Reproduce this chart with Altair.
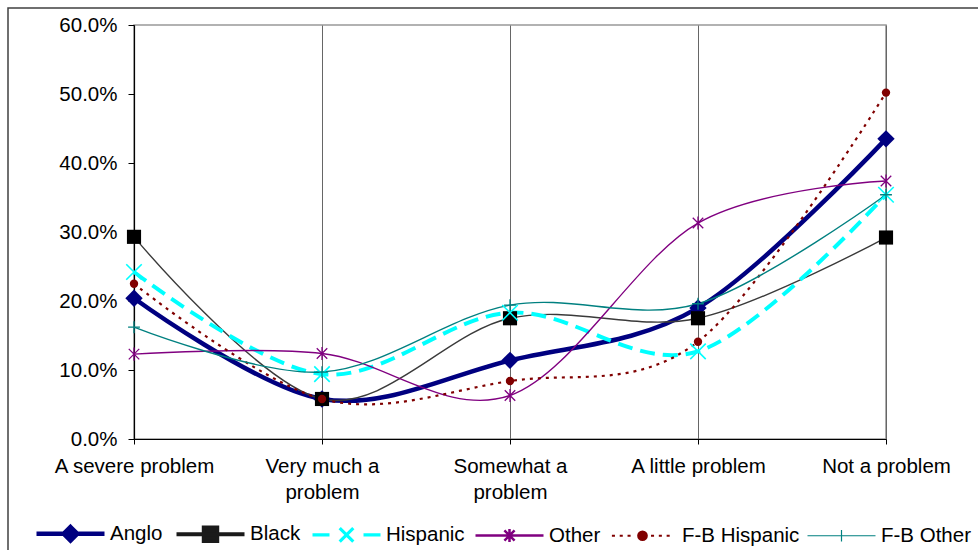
import altair as alt
import pandas as pd

CATEGORIES = ["A severe problem", "Very much a problem", "Somewhat a problem",
              "A little problem", "Not a problem"]
TICK_LINES = [["A severe problem"], ["Very much a", "problem"], ["Somewhat a", "problem"],
              ["A little problem"], ["Not a problem"]]
SERIES = ["Anglo", "Black", "Hispanic", "Other", "F-B Hispanic", "F-B Other"]
ANGLO = [20.4, 5.8, 11.4, 19.0, 43.5]
BLACK = [29.3, 5.8, 17.5, 17.5, 29.2]
HISPANIC = [24.2, 9.4, 18.3, 12.7, 35.4]
OTHER = [12.3, 12.4, 6.3, 31.3, 37.4]
FB_HISPANIC = [22.5, 5.8, 8.4, 14.1, 50.2]
FB_OTHER = [16.2, 9.7, 19.4, 19.6, 35.4]
Y_TICKS = [0, 10, 20, 30, 40, 50, 60]

VALUES = [ANGLO, BLACK, HISPANIC, OTHER, FB_HISPANIC, FB_OTHER]
rows = []
for s, vals in zip(SERIES, VALUES):
    for c, v in zip(CATEGORIES, vals):
        rows.append({"series": s, "category": c, "value": v})
df = pd.DataFrame(rows)

FONT = "Liberation Sans"
FS = 20.5

# styles (not data)
COLORS = ["#000080", "#000000", "#00FFFF", "#800080", "#800000", "#008080"]
LINE_COLORS = ["#000080", "#3a3a3a", "#00FFFF", "#800080", "#800000", "#008080"]
LINE_WIDTHS = [4.5, 1.4, 4, 1.4, 2.2, 1.4]
LINE_DASH = [None, None, [15, 8], None, [3, 5], None]
MARK_SHAPES = ["diamond", "square", "M-1,-1L1,1M-1,1L1,-1",
               "M-1,-1L1,1M-1,1L1,-1M0,-1.25L0,1.25", "circle", "M-1,0L1,0M0,-1L0,1"]
MARK_SIZES = [300, 200, 240, 110, 70, 140]
MARK_FILLED = [True, True, False, False, True, False]
MARK_SW = [1, 1, 1.6, 1.3, 1, 1.3]


def dotted(start, end, seg, period, skip=None):
    parts = []
    x = start
    while x + seg <= end + 1e-9:
        if not (skip and skip[0] < x + seg and x < skip[1]):
            parts.append(f"M{x:.3f},0H{x + seg:.3f}")
        x += period
    return "".join(parts)


LEGEND_PATHS = [
    "M-1,0H1M0,-0.2L0.2,0L0,0.2L-0.2,0Z",
    "M-1,0H1M-0.2,-0.2H0.2V0.2H-0.2Z",
    "M-1,0H-0.5M0.5,0H1M-0.2,-0.2L0.2,0.2M-0.2,0.2L0.2,-0.2",
    "M-1,0H1M-0.15,-0.15L0.15,0.15M-0.15,0.15L0.15,-0.15M0,-0.19V0.19",
    dotted(-0.9, 0.9, 0.09, 0.23, skip=(-0.2, 0.2)) + "M-0.13,0A0.13,0.13 0 1,0 0.13,0A0.13,0.13 0 1,0 -0.13,0Z",
    "M-1,0H1M0,-0.17V0.17",
]
LEGEND_COLORS = ["#000080", "#1a1a1a", "#00FFFF", "#800080", "#800000", "#008080"]
LEGEND_WIDTHS = [4.5, 1.2, 3, 1.4, 2.2, 1.4]

label_expr = ("[" + ",".join("[" + ",".join(f"'{t}'" for t in lines) + "]" for lines in TICK_LINES)
              + "][indexof([" + ",".join(f"'{c}'" for c in CATEGORIES) + "], datum.label)]")

x_enc = alt.X("category:N", sort=CATEGORIES,
              scale=alt.Scale(type="point", padding=0, domain=CATEGORIES),
              axis=alt.Axis(title=None, labelAngle=0, labelExpr=label_expr, grid=True,
                            gridColor="#666666", gridWidth=1, tickSize=5, tickColor="black",
                            domainColor="black", domainWidth=1.2, labelPadding=12,
                            labelFont=FONT, labelFontSize=FS, labelColor="black",
                            labelLineHeight=26, labelBaseline="top"))
y_enc = alt.Y("value:Q", scale=alt.Scale(domain=[0, 60], nice=False, zero=True),
              axis=alt.Axis(title=None, values=Y_TICKS, grid=False,
                            labelExpr="format(datum.value, '.1f') + '%'",
                            tickSize=6, tickColor="black", domainColor="black", domainWidth=1.2,
                            labelPadding=11, labelFont=FONT, labelFontSize=FS, labelColor="black"))

frame = alt.Chart(pd.DataFrame({"k": [0]})).mark_rect(
    fillOpacity=0, stroke="#404040", strokeWidth=1.5).encode(
    x=alt.value(-126), x2=alt.value(900), y=alt.value(-17), y2=alt.value(600))

layers = [frame]
for i, s in enumerate(SERIES):
    kw = dict(interpolate="cardinal", color=LINE_COLORS[i], strokeWidth=LINE_WIDTHS[i])
    if LINE_DASH[i]:
        kw["strokeDash"] = LINE_DASH[i]
    layers.append(alt.Chart(df).transform_filter(alt.datum.series == s)
                  .mark_line(**kw).encode(x=x_enc, y=y_enc))
for i, s in enumerate(SERIES):
    layers.append(alt.Chart(df).transform_filter(alt.datum.series == s)
                  .mark_point(shape=MARK_SHAPES[i], size=MARK_SIZES[i], filled=MARK_FILLED[i],
                              color=COLORS[i], strokeWidth=MARK_SW[i], opacity=1)
                  .encode(x=x_enc, y=y_enc))

leg = alt.Legend(title=None, orient="none", legendX=-100, legendY=472, direction="horizontal",
                 columns=6, symbolSize=4624, labelFont=FONT, labelFontSize=FS, labelColor="black",
                 labelOffset=3, columnPadding=5, padding=0)
legend_layer = alt.Chart(df).transform_filter("false").mark_point(filled=True, opacity=1).encode(
    fill=alt.Fill("series:N", scale=alt.Scale(domain=SERIES, range=LEGEND_COLORS), legend=leg),
    stroke=alt.Stroke("series:N", scale=alt.Scale(domain=SERIES, range=LEGEND_COLORS), legend=leg),
    shape=alt.Shape("series:N", scale=alt.Scale(domain=SERIES, range=LEGEND_PATHS), legend=leg),
    strokeWidth=alt.StrokeWidth("series:N", scale=alt.Scale(domain=SERIES, range=LEGEND_WIDTHS),
                                legend=leg),
)
layers.append(legend_layer)

chart = alt.layer(*layers).properties(
    width=752, height=414,
    padding={"left": 134, "top": 25, "right": 92, "bottom": 111},
    autosize=alt.AutoSizeParams(type="none"),
    background="white",
).configure_view(stroke="#999999", strokeWidth=1.6)

chart.save("out.html", embed_options={"renderer": "svg", "actions": False})
